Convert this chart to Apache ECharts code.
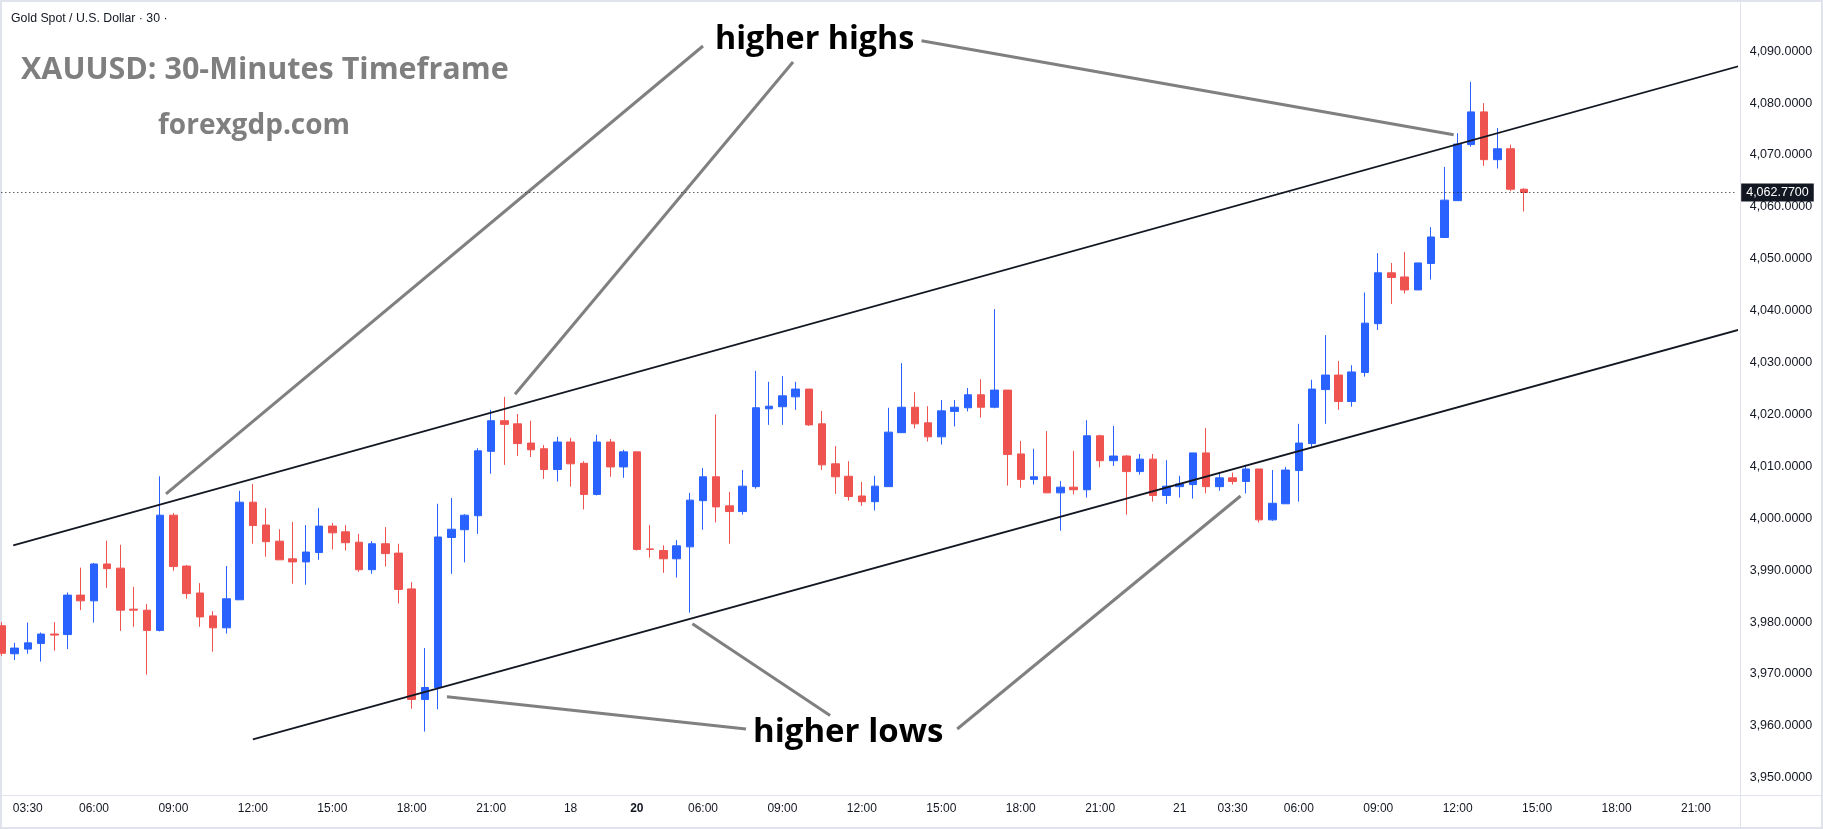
<!DOCTYPE html>
<html>
<head>
<meta charset="utf-8">
<script src="https://cdn.jsdelivr.net/npm/echarts/dist/echarts.min.js"></script>
<style>
  html, body { margin: 0; padding: 0; background: #fff; }
  #main { width: 1823px; height: 829px; }
</style>
</head>
<body>
<div id="main"></div>
<script>
// 30 min candles, [open, close, low, high]
const ohlc = [
  [3979.3, 3974.0, 3973.5, 3980.0], [3973.9, 3975.0, 3972.7, 3976.0], [3974.8, 3976.0, 3973.9, 3979.9],
  [3975.9, 3977.7, 3972.4, 3978.0], [3977.7, 3977.5, 3974.5, 3980.0], [3977.6, 3985.2, 3974.8, 3985.7],
  [3985.2, 3984.1, 3982.3, 3990.5], [3984.1, 3991.2, 3979.9, 3991.4], [3991.2, 3990.3, 3986.6, 3995.7],
  [3990.4, 3982.3, 3978.3, 3994.9], [3982.5, 3982.3, 3979.1, 3986.8], [3982.3, 3978.4, 3969.9, 3983.5],
  [3978.4, 4000.6, 3978.2, 4008.1], [4000.6, 3990.7, 3989.9, 4001.0], [3990.8, 3985.5, 3984.5, 3991.0],
  [3985.6, 3981.0, 3979.1, 3987.5], [3981.2, 3978.9, 3974.3, 3982.1], [3978.9, 3984.5, 3977.8, 3990.8],
  [3984.3, 4003.1, 3984.3, 4005.3], [4003.1, 3998.6, 3995.1, 4006.6], [3998.7, 3995.5, 3992.6, 4002.0],
  [3995.6, 3992.0, 3992.0, 3997.9], [3992.2, 3991.6, 3987.4, 3999.3], [3991.6, 3993.5, 3987.2, 3998.7],
  [3993.4, 3998.5, 3992.0, 4002.0], [3998.5, 3997.2, 3994.0, 3999.1], [3997.4, 3995.3, 3993.8, 3998.7],
  [3995.4, 3990.1, 3989.7, 3997.0], [3990.1, 3995.1, 3989.3, 3995.6], [3995.1, 3993.2, 3990.7, 3998.3],
  [3993.3, 3986.3, 3983.6, 3995.1], [3986.4, 3965.1, 3963.3, 3987.7], [3965.1, 3967.4, 3958.9, 3975.0],
  [3967.4, 3996.4, 3963.2, 4002.8], [3996.3, 3997.9, 3989.3, 4003.9], [3997.8, 4000.6, 3991.5, 4000.8],
  [4000.5, 4013.0, 3997.0, 4013.5], [4012.9, 4018.8, 4008.6, 4020.9], [4018.8, 4018.1, 4010.3, 4023.4],
  [4018.2, 4014.4, 4012.0, 4020.1], [4014.5, 4013.2, 4011.8, 4018.8], [4013.4, 4009.4, 4007.6, 4014.1],
  [4009.4, 4014.7, 4007.1, 4015.7], [4014.7, 4010.5, 4006.1, 4015.5], [4010.6, 4004.6, 4001.7, 4011.0],
  [4004.6, 4014.7, 4004.4, 4016.1], [4014.7, 4009.9, 4008.0, 4015.3], [4009.9, 4012.8, 4007.8, 4013.2],
  [4012.8, 3994.0, 3993.8, 4012.8], [3994.1, 3994.0, 3992.4, 3998.7], [3993.8, 3992.2, 3989.5, 3994.8],
  [3992.2, 3994.7, 3988.6, 3995.8], [3994.5, 4003.5, 3981.8, 4004.9], [4003.4, 4008.0, 3997.8, 4009.7],
  [4008.0, 4002.2, 3999.2, 4020.0], [4002.4, 4001.3, 3995.1, 4005.1], [4001.3, 4006.2, 4000.7, 4009.3],
  [4006.1, 4021.3, 4005.7, 4028.4], [4021.1, 4021.6, 4018.0, 4026.3], [4021.5, 4023.6, 4018.0, 4027.4],
  [4023.4, 4024.9, 4020.9, 4026.3], [4024.9, 4018.0, 4017.8, 4024.9], [4018.2, 4010.3, 4009.3, 4020.7],
  [4010.5, 4008.0, 4004.7, 4013.9], [4008.1, 4004.2, 4003.4, 4011.0], [4004.3, 4003.2, 4002.4, 4007.0],
  [4003.2, 4006.2, 4001.5, 4008.2], [4006.1, 4016.6, 4006.1, 4021.3], [4016.5, 4021.4, 4016.5, 4029.9],
  [4021.4, 4018.2, 4017.3, 4024.3], [4018.4, 4015.7, 4014.8, 4021.6], [4015.7, 4020.7, 4014.2, 4022.8],
  [4020.6, 4021.4, 4017.7, 4022.8], [4021.3, 4023.8, 4020.6, 4025.1], [4023.8, 4021.4, 4019.4, 4026.8],
  [4021.4, 4024.7, 4021.2, 4040.3], [4024.7, 4012.3, 4006.3, 4024.7], [4012.4, 4007.5, 4005.9, 4014.9],
  [4007.5, 4008.0, 4006.5, 4013.4], [4008.0, 4004.9, 4004.9, 4016.8], [4004.9, 4006.0, 3997.6, 4007.2],
  [4006.0, 4005.5, 4004.6, 4013.0], [4005.5, 4015.9, 4004.0, 4018.9], [4015.9, 4011.1, 4009.8, 4016.1],
  [4011.1, 4012.0, 4010.1, 4017.8], [4012.0, 4009.0, 4000.7, 4012.2], [4009.0, 4011.4, 4008.4, 4012.4],
  [4011.4, 4004.4, 4003.2, 4012.4], [4004.4, 4006.2, 4002.8, 4011.2], [4006.1, 4006.6, 4004.0, 4008.2],
  [4006.5, 4012.6, 4003.8, 4012.6], [4012.6, 4006.1, 4004.8, 4017.4], [4006.1, 4007.8, 4005.3, 4008.8],
  [4007.8, 4007.1, 4006.5, 4008.8], [4007.1, 4009.5, 4004.8, 4010.3], [4009.5, 3999.7, 3999.2, 4009.5],
  [3999.7, 4002.9, 3999.5, 4009.3], [4002.8, 4009.3, 4002.8, 4009.9], [4009.2, 4014.5, 4003.2, 4018.2],
  [4014.4, 4024.9, 4013.6, 4026.7], [4024.8, 4027.6, 4018.2, 4035.3], [4027.6, 4022.5, 4020.9, 4030.3],
  [4022.5, 4028.2, 4021.5, 4029.5], [4028.1, 4037.6, 4027.3, 4043.5], [4037.5, 4047.3, 4036.3, 4051.1],
  [4047.3, 4046.4, 4041.3, 4049.2], [4046.5, 4044.0, 4043.3, 4051.3], [4044.0, 4049.2, 4044.0, 4049.2],
  [4049.1, 4054.2, 4046.0, 4056.1], [4054.1, 4061.3, 4054.1, 4067.7], [4061.2, 4072.1, 4061.2, 4074.2],
  [4072.0, 4078.3, 4071.6, 4084.1], [4078.3, 4069.1, 4067.9, 4080.0], [4069.1, 4071.2, 4067.4, 4075.2],
  [4071.2, 4063.4, 4063.0, 4072.0], [4063.4, 4062.77, 4059.1, 4063.6]
]

const lastPrice = 4062.77
const slotCount = 132

// time axis labels: bar index -> text
const tickIdx = [2, 7, 13, 19, 25, 31, 37, 43, 48, 53, 59, 65, 71, 77, 83, 89, 93, 98, 104, 110, 116, 122, 128]
const tickText = ['03:30', '06:00', '09:00', '12:00', '15:00', '18:00', '21:00', '18', '20', '06:00', '09:00',
  '12:00', '15:00', '18:00', '21:00', '21', '03:30', '06:00', '09:00', '12:00', '15:00', '18:00', '21:00']
const boldTicks = ['20']

// drawn lines, [bar index, price]
const upperChannel = [[0.9, 3994.8], [131.35, 4087.2]]
const lowerChannel = [[19.0, 3957.4], [131.35, 4036.4]]
const pointerLines = [
  [[53.0, 4091.0], [12.44, 4004.7]],
  [[59.8, 4087.9], [38.8, 4023.9]],
  [[69.5, 4092.0], [109.7, 4073.9]],
  [[33.66, 3965.6], [56.25, 3959.4]],
  [[52.2, 3979.7], [62.6, 3962.0]],
  [[72.2, 3959.4], [93.6, 4004.3]]
]

const cats = []
for (let i = 0; i < slotCount; i++) cats.push(String(i))
const tickMap = {}
tickIdx.forEach((idx, k) => { tickMap[idx] = tickText[k] })

const fmtPrice = (v) => v.toLocaleString('en-US', { minimumFractionDigits: 4, maximumFractionDigits: 4 })

const lineSeries = (pts, color, width) => ({
  type: 'line',
  xAxisIndex: 1,
  data: pts,
  symbol: 'none',
  silent: true,
  clip: false,
  animation: false,
  lineStyle: { color, width },
  z: 4,
})

const chart = echarts.init(document.getElementById('main'), null, { renderer: 'canvas' })

const option = {
  backgroundColor: '#ffffff',
  animation: false,
  textStyle: { fontFamily: 'Liberation Sans' },
  grid: { left: 1.3, right: 87.3, top: 4, bottom: 34 },
  xAxis: [
    {
      type: 'category',
      data: cats,
      boundaryGap: false,
      axisLine: { show: false },
      axisTick: { show: false },
      splitLine: { show: false },
      axisLabel: {
        margin: 8,
        fontSize: 12,
        color: '#131722',
        fontFamily: 'Liberation Sans',
        interval: (idx) => tickMap[idx] !== undefined,
        formatter: (v) => {
          const t = tickMap[+v]
          if (t === undefined) return ''
          return boldTicks.includes(t) ? '{b|' + t + '}' : t
        },
        rich: { b: { fontWeight: 'bold', fontSize: 12, color: '#131722' } },
      },
    },
    { type: 'value', min: 0, max: slotCount - 1, show: false },
  ],
  yAxis: {
    type: 'value',
    position: 'right',
    min: 3946.69,
    max: 4099.09,
    splitNumber: 15,
    minInterval: 10,
    maxInterval: 10,
    scale: true,
    axisLine: { show: false },
    axisTick: { show: false },
    splitLine: { show: false },
    axisLabel: {
      showMinLabel: false,
      showMaxLabel: false,
      margin: 14,
      fontSize: 12.5,
      color: '#131722',
      fontFamily: 'Liberation Sans',
      formatter: fmtPrice,
    },
  },
  series: [
    {
      type: 'candlestick',
      data: ohlc,
      barWidth: 8,
      itemStyle: {
        color: '#2962ff',
        color0: '#ef5350',
        borderColor: '#2962ff',
        borderColor0: '#ef5350',
        borderWidth: 1,
      },
      markLine: {
        silent: true,
        symbol: 'none',
        z: 10,
        lineStyle: { color: '#131722', width: 1, type: [1, 3] },
        label: {
          show: true,
          position: 'end',
          distance: 5.5,
          formatter: fmtPrice(lastPrice),
          backgroundColor: '#131722',
          color: '#ffffff',
          fontSize: 12.5,
          fontFamily: 'Liberation Sans',
          padding: [3, 5, 2, 5],
        },
        data: [{ yAxis: lastPrice }],
      },
    },
    lineSeries(upperChannel, '#131722', 1.8),
    lineSeries(lowerChannel, '#131722', 1.8),
    ...pointerLines.map((pts) => lineSeries(pts, '#808080', 3)),
  ],
  graphic: [
    { type: 'rect', silent: true, z: 0, shape: { x: 1, y: 1, width: 1821, height: 827 },
      style: { fill: 'none', stroke: '#e0e3eb', lineWidth: 2 } },
    { type: 'line', silent: true, shape: { x1: 0, y1: 795.5, x2: 1823, y2: 795.5 },
      style: { stroke: '#e0e3eb', lineWidth: 1 } },
    { type: 'line', silent: true, shape: { x1: 1740.5, y1: 0, x2: 1740.5, y2: 829 },
      style: { stroke: '#e0e3eb', lineWidth: 1 } },
    { type: 'text', left: 11, top: 13, silent: true,
      style: { text: 'Gold Spot / U.S. Dollar · 30 ·', fill: '#131722', font: '12.3px "Liberation Sans"' } },
    { type: 'text', x: 21, y: 70, silent: true,
      style: { text: 'XAUUSD: 30-Minutes Timeframe', fill: '#7f7f7f', font: 'bold 30.5px "Open Sans"', verticalAlign: 'middle' } },
    { type: 'text', x: 158, y: 126.5, silent: true,
      style: { text: 'forexgdp.com', fill: '#7f7f7f', font: 'bold 28px "Open Sans"', verticalAlign: 'middle' } },
    { type: 'text', x: 715, y: 40, silent: true, z: 20,
      style: { text: 'higher highs', fill: '#000000', font: 'bold 32.3px "Open Sans"', verticalAlign: 'middle' } },
    { type: 'text', x: 753, y: 733, silent: true, z: 20,
      style: { text: 'higher lows', fill: '#000000', font: 'bold 33px "Open Sans"', verticalAlign: 'middle' } },
  ],
}

chart.setOption(option)
</script>
</body>
</html>
